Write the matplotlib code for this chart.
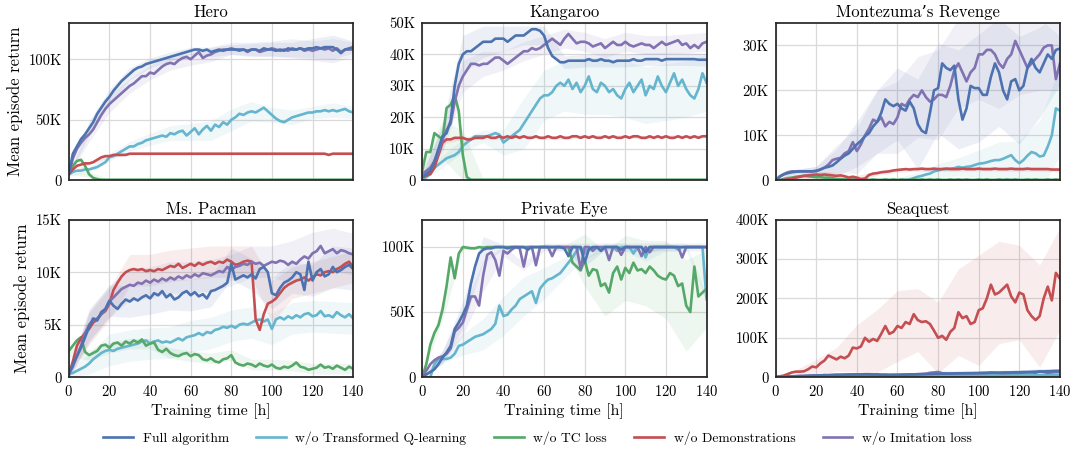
import numpy as np
import matplotlib
matplotlib.use('Agg')
import matplotlib.pyplot as plt

# training time grid (hours), every 2h; bands are read every 10h
hours = list(range(0, 141, 2))
band_hours = hours[::5]

# ---------------- Hero (K) ----------------
hero_full = [5, 22, 28, 34, 38, 43, 48, 55, 60, 65,
             69, 74, 78, 82, 85, 88, 91, 93, 94, 96,
             97, 98, 99, 100, 101, 102, 103, 104, 105, 106,
             107, 108, 108, 107, 108, 106, 107, 108, 107, 108,
             108, 108, 108, 108, 107, 108, 108, 107, 109, 108,
             108, 107, 108, 107, 109, 108, 108, 109, 108, 109,
             109, 110, 109, 110, 110, 110, 108, 105, 108, 109,
             110]
hero_noq = [5, 7, 8, 8, 9, 9, 10, 11, 13, 15,
            19, 20, 22, 24, 26, 28, 28, 30, 31, 33,
            34, 35, 36, 37, 36, 39, 38, 40, 41, 37,
            40, 43, 38, 42, 45, 41, 46, 44, 48, 46,
            50, 52, 55, 54, 56, 57, 56, 58, 60, 57,
            54, 51, 49, 48, 50, 52, 53, 54, 55, 56,
            56, 57, 57, 58, 57, 58, 57, 58, 59, 57,
            56]
hero_notc = [5, 12, 16, 17, 12, 5, 2, 1, 0.5, 0.5,
             0.5, 0.5, 0.5, 0.5, 0.5, 0.5, 0.5, 0.5, 0.5, 0.5,
             0.5, 0.5, 0.5, 0.5, 0.5, 0.5, 0.5, 0.5, 0.5, 0.5,
             0.5, 0.5, 0.5, 0.5, 0.5, 0.5, 0.5, 0.5, 0.5, 0.5,
             0.5, 0.5, 0.5, 0.5, 0.5, 0.5, 0.5, 0.5, 0.5, 0.5,
             0.5, 0.5, 0.5, 0.5, 0.5, 0.5, 0.5, 0.5, 0.5, 0.5,
             0.5, 0.5, 0.5, 0.5, 0.5, 0.5, 0.5, 0.5, 0.5, 0.5,
             0.5]
hero_nodemo = [5, 9, 12, 13, 14, 14, 15, 17, 19, 20,
               20, 21, 21, 21, 21, 22, 22, 22, 22, 22,
               22, 22, 22, 22, 22, 22, 22, 22, 22, 22,
               22, 22, 22, 22, 22, 22, 22, 22, 22, 22,
               22, 22, 22, 22, 22, 22, 22, 22, 22, 22,
               22, 22, 22, 22, 22, 22, 22, 22, 22, 22,
               22, 22, 22, 22, 21, 22, 22, 22, 22, 22,
               22]
hero_noimit = [5, 18, 26, 31, 35, 38, 42, 48, 54, 59,
               63, 66, 69, 72, 75, 78, 80, 83, 86, 86,
               89, 88, 91, 94, 96, 97, 96, 99, 101, 102,
               100, 103, 106, 101, 103, 104, 106, 107, 108, 108,
               109, 108, 107, 108, 106, 108, 108, 106, 107, 108,
               109, 108, 107, 108, 107, 109, 108, 109, 107, 108,
               107, 108, 109, 108, 109, 107, 109, 106, 108, 108,
               108]
hero_full_sd = [1, 6, 6, 5, 4, 4, 3, 4, 4, 5, 6, 6, 8, 10, 5]
hero_noq_sd = [1, 2, 3, 4, 5, 6, 7, 8, 9, 8, 6, 6, 5, 6, 5]
hero_notc_sd = [0.5, 2, 0.5, 0.5, 0.5, 0.5, 0.5, 0.5, 0.5, 0.5, 0.5, 0.5, 0.5, 0.5, 0.5]
hero_nodemo_sd = [0.5, 1, 1, 1, 1, 1, 1, 1, 1, 1, 1, 1, 1, 1, 1]
hero_noimit_sd = [1, 6, 7, 6, 6, 6, 5, 6, 5, 6, 6, 8, 8, 10, 6]

# ---------------- Kangaroo (K) ----------------
kang_full = [1, 2, 3, 6, 10, 14, 15, 19, 30, 37,
             40, 41, 41, 42, 43, 44, 44, 44, 45, 45,
             45, 44, 45, 46, 46, 46, 47, 48, 48, 47.5,
             46, 42, 39.5, 38.5, 37.5, 37.5, 38, 38, 38, 38,
             38, 38.5, 38, 38, 38.5, 38, 38, 37.5, 38, 38,
             38, 38, 38.5, 38, 38, 38.5, 38.5, 38.5, 38.5, 38,
             38.5, 38.5, 38.5, 38.5, 38.5, 38.5, 38.5, 38.5, 38.3, 38.3,
             38.3]
kang_noq = [0.5, 1, 2, 4, 5, 6, 7, 7.5, 8, 9,
            11, 12, 13, 14, 14, 14, 14, 14.5, 15, 14.5,
            12, 13, 14, 15, 16, 18, 20, 22, 24, 26,
            27, 27, 28, 30, 31, 30, 32, 29, 31, 28,
            30, 33, 29, 28, 31, 30, 28, 29, 27, 26,
            29, 31, 28, 30, 32, 27, 30, 29, 33, 30,
            28, 31, 34, 30, 32, 29, 27, 26, 29, 34,
            31]
kang_notc = [3, 9, 9, 15, 14, 13, 23, 24, 27, 22,
             8, 1, 0.2, 0.2, 0.2, 0.2, 0.2, 0.2, 0.2, 0.2,
             0.2, 0.2, 0.2, 0.2, 0.2, 0.2, 0.2, 0.2, 0.2, 0.2,
             0.2, 0.2, 0.2, 0.2, 0.2, 0.2, 0.2, 0.2, 0.2, 0.2,
             0.2, 0.2, 0.2, 0.2, 0.2, 0.2, 0.2, 0.2, 0.2, 0.2,
             0.2, 0.2, 0.2, 0.2, 0.2, 0.2, 0.2, 0.2, 0.2, 0.2,
             0.2, 0.2, 0.2, 0.2, 0.2, 0.2, 0.2, 0.2, 0.2, 0.2,
             0.2]
kang_nodemo = [1, 1.5, 2, 4, 8, 12, 13, 13, 13.5, 13.5,
               13.5, 13, 13, 13.5, 13.5, 13.5, 14, 13.5, 13.5, 14,
               13.5, 14, 13.5, 14, 13.5, 14, 13.5, 13.5, 14, 13.5,
               13.5, 14, 13.5, 13.5, 14, 13.5, 13.5, 14, 14, 13.5,
               14, 13.5, 14, 13.5, 13.5, 14, 13.5, 14, 13.5, 13.5,
               14, 13.5, 14, 14, 13.5, 13.5, 14, 13.5, 14, 13.5,
               14, 13.5, 13.5, 14, 13.5, 14, 13.5, 14, 13.5, 14,
               14]
kang_noimit = [2, 3, 4, 6, 9, 13, 16, 18, 25, 30,
               33, 35, 37, 37, 36.5, 37, 37, 38, 39, 39,
               38, 37, 38, 39, 40, 41, 41, 42, 41.5, 42,
               43, 44, 45, 44, 43, 45, 46.5, 45, 43.5, 44,
               44, 43.5, 42.5, 43, 43.5, 42, 43, 44, 43, 43,
               44, 43, 42.5, 43, 43.5, 43, 43, 42, 43, 44,
               43, 43.5, 44, 44.5, 43, 43.5, 42, 43, 42, 43.5,
               44]
kang_full_sd = [1, 4, 6, 5, 4, 3, 3, 2, 2, 2, 2, 2, 2, 2, 2]
kang_noq_sd = [0.5, 2, 2, 2, 4, 8, 8, 8, 9, 9, 9, 9, 9, 9, 9]
kang_notc_sd = [2, 6, 8, 0.2, 0.2, 0.2, 0.2, 0.2, 0.2, 0.2, 0.2, 0.2, 0.2, 0.2, 0.2]
kang_nodemo_sd = [0.5, 0.5, 0.5, 0.5, 0.5, 0.5, 0.5, 0.5, 0.5, 0.5, 0.5, 0.5, 0.5, 0.5, 0.5]
kang_noimit_sd = [1, 4, 5, 4, 3, 3, 3, 3, 3, 3, 3, 3, 3, 3, 3]

# ---------------- Montezuma's Revenge (K) ----------------
mont_full = [0, 0.8, 1.3, 1.6, 1.8, 1.9, 2, 2, 2, 2,
             2.1, 2.4, 2.8, 3, 3.3, 4, 4.8, 5.5, 6, 7,
             8, 8.8, 9.8, 10.5, 12, 13, 15, 18, 17, 16.5,
             17, 16, 15.5, 17.5, 16, 12.5, 11, 10.5, 15, 20,
             20.5, 26, 25, 24.5, 25.5, 18, 13.5, 16, 21, 20.5,
             20.5, 19, 19, 23, 26, 24, 20, 18, 22, 22.5,
             20, 21, 25, 27, 25, 24, 26, 28, 27, 29,
             29.3]
mont_noq = [0, 0, 0, 0, 0, 0, 0, 0, 0, 0,
            0, 0, 0, 0, 0, 0, 0, 0, 0, 0,
            0, 0, 0, 0, 0, 0, 0, 0, 0, 0,
            0, 0, 0.1, 0.2, 0.5, 0.8, 1, 1.3, 1.5, 2,
            2.2, 2.5, 2.5, 2.6, 2.7, 3, 2.8, 3, 3.1, 3.4,
            3.7, 3.8, 4, 4.3, 4.5, 4.5, 4.8, 5.2, 5.6, 4.5,
            3.8, 4.5, 5.5, 6.3, 6, 5.3, 5.5, 7.5, 10, 16,
            15.5]
mont_notc = [0, 0.1, 0.3, 0.5, 0.6, 0.8, 0.9, 1, 0.9, 0.8,
             0.7, 0.7, 0.6, 0.6, 0.5, 0.3, 0.3, 0.2, 0.2, 0.2,
             0.2, 0.1, 0.2, 0.1, 0.2, 0.1, 0.1, 0.2, 0.1, 0.2,
             0.1, 0.2, 0.1, 0.1, 0.2, 0.1, 0.2, 0.1, 0.2, 0.1,
             0.2, 0.1, 0.1, 0.2, 0.1, 0.2, 0.1, 0.2, 0.1, 0.1,
             0.2, 0.1, 0.2, 0.1, 0.1, 0.2, 0.1, 0.2, 0.1, 0.2,
             0.1, 0.1, 0.2, 0.1, 0.2, 0.1, 0.1, 0.2, 0.1, 0.2,
             0.1]
mont_nodemo = [0, 0, 0.1, 0.2, 0.4, 0.6, 0.8, 1, 1.1, 1.2,
               1.3, 1.2, 1.3, 1.2, 1.1, 1, 1.1, 0.9, 0.6, 0.8,
               0.6, 0.3, 0.4, 1.2, 1.5, 1.6, 1.8, 1.9, 2, 2.2,
               2.3, 2.4, 2.5, 2.4, 2.5, 2.5, 2.6, 2.5, 2.5, 2.6,
               2.5, 2.5, 2.6, 2.5, 2.5, 2.5, 2.6, 2.5, 2.5, 2.5,
               2.6, 2.5, 2.5, 2.5, 2.6, 2.5, 2.5, 2.5, 2.6, 2.5,
               2.5, 2.5, 2.6, 2.5, 2.5, 2.5, 2.5, 2.5, 2.4, 2.4,
               2.4]
mont_noimit = [0, 0.9, 1.4, 1.8, 2, 2, 2, 2, 2, 2,
               2.1, 2.4, 2.8, 3.5, 4.5, 4.8, 5, 6, 6.5, 8.5,
               6.5, 8, 10, 11.5, 13.5, 13, 14, 12, 13, 12.5,
               14, 17, 16.5, 18, 19, 18.5, 20, 18.5, 17.5, 18,
               19, 19, 18.5, 21, 24.5, 26, 24, 22, 24, 25,
               28, 28, 29, 29, 28, 26, 25, 27, 28, 31,
               29, 27, 25, 26, 27, 28, 29.5, 30, 30, 22.5,
               26]
mont_full_sd = [0, 0.5, 1, 3, 5, 7, 8, 10, 10, 11, 12, 12, 12, 10, 8]
mont_noq_sd = [0, 0, 0, 0, 0, 0, 0.5, 1, 1.5, 2, 3, 4, 5, 8, 10]
mont_notc_sd = [0.2, 0.5, 0.5, 0.3, 0.2, 0.2, 0.2, 0.2, 0.2, 0.2, 0.2, 0.2, 0.2, 0.2, 0.2]
mont_nodemo_sd = [0.3, 0.6, 0.8, 0.8, 0.5, 0.5, 0.5, 0.5, 0.5, 0.5, 0.5, 0.5, 0.5, 0.5, 0.5]
mont_noimit_sd = [0, 0.5, 1, 3, 5, 7, 8, 9, 10, 10, 10, 10, 10, 8, 6]

# ---------------- Ms. Pacman (K) ----------------
pac_full = [0.3, 1.2, 2, 2.8, 3.8, 4.8, 5.6, 5.4, 6.2, 6.5,
            7.3, 6.8, 6.5, 7, 7.4, 7.2, 7.5, 7.3, 7.6, 7.8,
            7.5, 8, 7.8, 8.2, 7.6, 7.9, 7.4, 7.6, 8, 8.2,
            7.8, 8.1, 7.7, 7.9, 7.5, 8.2, 8.3, 8.5, 8.7, 9,
            10.8, 9.3, 9.5, 9.7, 9.5, 9.8, 9.4, 10.3, 10.5, 10,
            8, 7.8, 8.5, 9, 9.2, 9.5, 10, 9.8, 8.3, 11,
            9.2, 10, 10.3, 9.6, 9.8, 10.5, 10, 10.2, 10.5, 10.7,
            10.3]
pac_noq = [0.3, 0.4, 0.6, 0.8, 1, 1.3, 1.7, 2, 2.3, 2.5,
           2.6, 2.5, 2.7, 2.8, 2.9, 3, 3.1, 3.2, 3.4, 3.5,
           3.2, 3.4, 3.5, 3.3, 3.4, 3.3, 3.5, 3.7, 3.5, 3.8,
           3.9, 4, 4.2, 4, 4.3, 4.2, 4.5, 4.6, 4.8, 4.7,
           4.9, 4.7, 5, 5.1, 5, 5.2, 5.4, 5.5, 5.3, 5.5,
           4.6, 5.5, 5.7, 5.5, 5.8, 5.6, 5.9, 5.7, 6, 6.1,
           5.8, 5.9, 6.3, 5.8, 5.9, 5.7, 6.2, 5.9, 5.7, 6,
           5.6]
pac_notc = [2.5, 3, 3.5, 3.8, 2.4, 2.1, 2.3, 2.5, 3, 3.1,
            2.8, 3.2, 3.3, 3, 3.4, 3.2, 3.5, 3.3, 3.6, 3,
            3.2, 3.3, 2.6, 2.4, 2.7, 2.3, 2.1, 2, 2.2, 2.3,
            2, 2.2, 2.1, 1.7, 1.6, 1.8, 1.5, 1.4, 1.7, 1.8,
            2.1, 1.4, 1.2, 1.1, 1.3, 1.2, 1, 1.3, 1.1, 1,
            1.2, 0.9, 0.8, 1, 0.9, 1.1, 1.4, 1, 0.9, 0.7,
            0.8, 0.9, 1.2, 0.9, 1, 0.8, 1.1, 0.9, 0.7, 1,
            0.8]
pac_nodemo = [0.2, 1.5, 3, 3.7, 4.2, 4.6, 5.2, 5.5, 6, 6.3,
              7, 8.3, 9, 9.6, 10, 10.2, 10.3, 10.2, 10.3, 10.1,
              10.2, 10.1, 10.3, 10.2, 10.4, 10.6, 10.5, 10.8, 10.4, 10.6,
              10.8, 10.6, 10.9, 10.7, 10.9, 11, 10.8, 11, 10.9, 11.2,
              11, 10.7, 10.8, 11, 11.1, 11, 5.5, 4.5, 6, 7,
              7.2, 7.5, 8, 8.5, 8.8, 9, 9.2, 9.3, 9.5, 9.2,
              9.5, 9.8, 9.7, 10, 10.1, 10, 10.3, 10.5, 10.8, 11,
              10.5]
pac_noimit = [0.3, 1, 2, 3, 4.2, 5, 5.4, 5.6, 6, 6.4,
              7.2, 7.6, 8, 8.4, 8.6, 8.8, 8.7, 9, 8.9, 9.2,
              9, 9.3, 9.1, 9.4, 9.2, 9.5, 9.3, 9.6, 9.4, 9.7,
              9.5, 9.8, 9.6, 9.9, 9.8, 9.7, 9.9, 10.1, 10, 10.5,
              10.2, 10.5, 10.6, 10.8, 10.7, 11, 10.8, 10.9, 10.6, 10.8,
              11, 10.9, 11.1, 11, 10.7, 11, 10.8, 11.2, 11.5, 11.3,
              11.8, 12, 12.5, 11.8, 12, 12.2, 11.8, 12.1, 12, 11.8,
              11.7]
pac_full_sd = [0.3, 1.5, 1.5, 1.5, 1.5, 1.5, 1.5, 1.5, 1.5, 1.5, 1.5, 1.5, 1.5, 2, 2]
pac_noq_sd = [0.3, 1, 1.5, 1.5, 1.5, 1.5, 1.5, 1.5, 1.5, 1.5, 1.5, 1.5, 1.5, 1.5, 1.5]
pac_notc_sd = [0.5, 0.5, 0.5, 0.5, 0.5, 0.5, 0.5, 0.5, 0.5, 0.5, 0.5, 0.5, 0.5, 0.5, 0.5]
pac_nodemo_sd = [0.3, 1.5, 1.5, 1.5, 1.5, 1.5, 1.5, 1.5, 1.5, 1.5, 2, 1.5, 1.5, 1.5, 1.5]
pac_noimit_sd = [0.3, 1.5, 1.5, 1.5, 1.5, 1.5, 1.5, 1.5, 1.5, 1.5, 1.5, 2, 2, 2, 2]

# ---------------- Private Eye (K) ----------------
eye_full = [0, 2, 4, 6, 10, 15, 19, 24, 37, 42,
            48, 55, 72, 85, 95, 98, 99, 99, 100, 100,
            100, 99, 100, 100, 100, 100, 98, 100, 100, 100,
            100, 100, 100, 100, 100, 99, 93, 100, 100, 100,
            88, 98, 100, 100, 97, 100, 100, 100, 100, 98,
            100, 100, 100, 100, 100, 96, 100, 100, 100, 100,
            100, 100, 100, 100, 100, 100, 100, 100, 100, 100,
            100]
eye_noq = [0, 0, 0, 10, 14, 14, 14, 15, 18, 24,
           25, 27, 29, 31, 32, 33, 35, 37, 41, 55,
           47, 48, 52, 55, 60, 62, 64, 66, 57, 68,
           72, 75, 76, 78, 80, 84, 88, 92, 97, 100,
           95, 100, 99, 100, 98, 100, 100, 100, 97, 100,
           100, 100, 95, 100, 100, 92, 100, 100, 100, 100,
           100, 100, 100, 98, 100, 100, 100, 100, 100, 100,
           60]
eye_notc = [0, 10, 25, 34, 40, 52, 70, 92, 76, 95,
            100, 99.5, 99, 99, 100, 99.5, 100, 100, 100, 100,
            100, 100, 100, 100, 100, 100, 100, 100, 100, 100,
            100, 100, 100, 100, 100, 100, 100, 88, 85, 82,
            90, 78, 83, 82, 70, 72, 65, 80, 85, 75,
            84, 80, 88, 82, 83, 80, 85, 82, 78, 76,
            75, 80, 78, 70, 72, 55, 50, 85, 62, 65,
            68]
eye_nodemo = [0.3, 0.3, 0.3, 0.3, 0.3, 0.3, 0.3, 0.3, 0.3, 0.3,
              0.3, 0.3, 0.3, 0.3, 0.3, 0.3, 0.3, 0.3, 0.3, 0.3,
              0.3, 0.3, 0.3, 0.3, 0.3, 0.3, 0.3, 0.3, 0.3, 0.3,
              0.3, 0.3, 0.3, 0.3, 0.3, 0.3, 0.3, 0.3, 0.3, 0.3,
              0.3, 0.3, 0.3, 0.3, 0.3, 0.3, 0.3, 0.3, 0.3, 0.3,
              0.3, 0.3, 0.3, 0.3, 0.3, 0.3, 0.3, 0.3, 0.3, 0.3,
              0.3, 0.3, 0.3, 0.3, 0.3, 0.3, 0.3, 0.3, 0.3, 0.3,
              0.3]
eye_noimit = [0, 5, 10, 13, 15, 16, 18, 22, 35, 38,
              42, 52, 62, 62, 55, 78, 94, 96, 90, 78,
              97, 95, 98, 100, 99, 85, 100, 100, 86, 100,
              100, 100, 93, 100, 100, 100, 100, 100, 100, 83,
              100, 100, 97, 100, 100, 100, 90, 100, 100, 94,
              100, 100, 100, 100, 93, 100, 96, 100, 100, 100,
              100, 100, 100, 100, 92, 100, 100, 100, 100, 100,
              100]
eye_full_sd = [0, 5, 10, 10, 2, 1, 1, 2, 3, 2, 1, 1, 1, 1, 1]
eye_noq_sd = [0, 3, 8, 12, 15, 15, 12, 8, 4, 3, 3, 3, 3, 3, 3]
eye_notc_sd = [0, 8, 2, 1, 1, 1, 1, 1, 20, 25, 25, 25, 30, 35, 30]
eye_nodemo_sd = [0, 0, 0, 0, 0, 0, 0, 0, 0, 0, 0, 0, 0, 0, 0]
eye_noimit_sd = [0, 5, 10, 12, 4, 3, 3, 3, 3, 3, 3, 3, 3, 3, 3]

# ---------------- Seaquest (K) ----------------
sea_full = [0, 0.5, 1, 1.5, 2, 2.5, 3, 3, 3.5, 4,
            4, 4.5, 5, 5, 5.5, 6, 6, 6.5, 6.5, 7,
            7, 7, 7.5, 7.5, 7, 7, 6.5, 6.5, 6, 6,
            6, 6.5, 6.5, 7, 7, 7.5, 7.5, 8, 8, 8.5,
            8.5, 9, 9, 9, 9.5, 9.5, 10, 10, 10, 10.5,
            10.5, 11, 11, 11, 11.5, 11.5, 12, 12, 12, 12.5,
            12.5, 13, 13, 13.5, 14, 14, 14.5, 15, 15.5, 16,
            16]
sea_noq = [0, 0.3, 0.6, 1, 1.2, 1.5, 1.8, 2, 2.2, 2.4,
           2.5, 2.6, 2.7, 2.8, 2.9, 3, 3, 3, 3.1, 3.2,
           3.2, 3.3, 3.3, 3.4, 3.4, 3.5, 3.5, 3.5, 3.6, 3.6,
           3.7, 3.7, 3.8, 3.8, 3.9, 3.9, 4, 4, 4, 4.1,
           4.1, 4.2, 4.2, 4.3, 4.3, 4.4, 4.4, 4.5, 4.5, 4.5,
           4.6, 4.6, 4.7, 4.7, 4.8, 4.8, 4.9, 4.9, 5, 5,
           5, 5.1, 5.1, 5.2, 5.2, 5.3, 5.3, 5.4, 5.4, 5.5,
           5.5]
sea_notc = [0.5, 0.5, 0.5, 0.5, 0.5, 0.5, 0.5, 0.5, 0.5, 0.5,
            0.5, 0.5, 0.5, 0.5, 0.5, 0.5, 0.5, 0.5, 0.5, 0.5,
            0.5, 0.5, 0.5, 0.5, 0.5, 0.5, 0.5, 0.5, 0.5, 0.5,
            0.5, 0.5, 0.5, 0.5, 0.5, 0.5, 0.5, 0.5, 0.5, 0.5,
            0.5, 0.5, 0.5, 0.5, 0.5, 0.5, 0.5, 0.5, 0.5, 0.5,
            0.5, 0.5, 0.5, 0.5, 0.5, 0.5, 0.5, 0.5, 0.5, 0.5,
            0.5, 0.5, 0.5, 0.5, 0.5, 0.5, 0.5, 0.5, 0.5, 0.5,
            0.5]
sea_nodemo = [0, 2, 4, 8, 12, 14, 14, 15, 20, 27,
              25, 35, 42, 55, 50, 45, 52, 48, 55, 75,
              73, 78, 100, 90, 97, 92, 110, 130, 110, 115,
              130, 125, 140, 135, 160, 145, 140, 142, 135, 118,
              100, 105, 95, 115, 125, 165, 150, 155, 135, 140,
              170, 175, 200, 235, 210, 215, 225, 235, 205, 190,
              215, 210, 170, 155, 145, 155, 200, 230, 195, 265,
              250]
sea_noimit = [0, 0.5, 1, 1.5, 2, 2.5, 3, 3, 3.5, 4,
              4, 4.5, 5, 5, 5.5, 6, 6, 6, 6.5, 6.5,
              6.5, 7, 7, 6.5, 6, 6, 5.5, 5.5, 5.5, 6,
              6, 6, 6.5, 7, 7, 7.5, 8, 8.5, 11, 12,
              13, 10, 9, 9, 9.5, 10, 9.5, 10, 10, 9.5,
              10, 10, 10.5, 12, 11, 10.5, 10, 10.5, 11, 11,
              11, 11.5, 12, 12, 11, 15, 13, 11, 12, 13,
              13]
sea_full_sd = [0, 1, 2, 3, 3, 3, 3, 3, 4, 5, 5, 6, 6, 6, 6]
sea_noq_sd = [0, 1, 1, 1, 1, 1, 1, 1, 1, 1, 1, 1, 1, 1, 1]
sea_notc_sd = [0, 0, 0, 0, 0, 0, 0, 0, 0, 0, 0, 0, 0, 0, 0]
sea_nodemo_sd = [0, 5, 20, 30, 60, 80, 90, 80, 90, 110, 140, 130, 120, 130, 130]
sea_noimit_sd = [0, 1, 2, 3, 3, 3, 3, 4, 5, 6, 6, 6, 7, 7, 7]

# ---------------- styling ----------------
labels = ['Full algorithm', 'w/o Transformed Q-learning', 'w/o TC loss',
          'w/o Demonstrations', 'w/o Imitation loss']
colors = ['#4C72B0', '#64B5CD', '#55A868', '#C44E52', '#8172B2']
draw_order = [1, 2, 3, 4, 0]

plt.rcParams['font.family'] = ['cmr10', 'DejaVu Serif']
plt.rcParams['axes.formatter.use_mathtext'] = True
plt.rcParams['axes.unicode_minus'] = False

games = [
    ('Hero', [hero_full, hero_noq, hero_notc, hero_nodemo, hero_noimit],
     [hero_full_sd, hero_noq_sd, hero_notc_sd, hero_nodemo_sd, hero_noimit_sd],
     130, [0, 50, 100], ['0', '50K', '100K']),
    ('Kangaroo', [kang_full, kang_noq, kang_notc, kang_nodemo, kang_noimit],
     [kang_full_sd, kang_noq_sd, kang_notc_sd, kang_nodemo_sd, kang_noimit_sd],
     50, [0, 10, 20, 30, 40, 50], ['0', '10K', '20K', '30K', '40K', '50K']),
    ('Montezuma\u2019s Revenge', [mont_full, mont_noq, mont_notc, mont_nodemo, mont_noimit],
     [mont_full_sd, mont_noq_sd, mont_notc_sd, mont_nodemo_sd, mont_noimit_sd],
     35, [0, 10, 20, 30], ['0', '10K', '20K', '30K']),
    ('Ms. Pacman', [pac_full, pac_noq, pac_notc, pac_nodemo, pac_noimit],
     [pac_full_sd, pac_noq_sd, pac_notc_sd, pac_nodemo_sd, pac_noimit_sd],
     15, [0, 5, 10, 15], ['0', '5K', '10K', '15K']),
    ('Private Eye', [eye_full, eye_noq, eye_notc, eye_nodemo, eye_noimit],
     [eye_full_sd, eye_noq_sd, eye_notc_sd, eye_nodemo_sd, eye_noimit_sd],
     121, [0, 50, 100], ['0', '50K', '100K']),
    ('Seaquest', [sea_full, sea_noq, sea_notc, sea_nodemo, sea_noimit],
     [sea_full_sd, sea_noq_sd, sea_notc_sd, sea_nodemo_sd, sea_noimit_sd],
     400, [0, 100, 200, 300, 400], ['0', '100K', '200K', '300K', '400K']),
]

fig, axes = plt.subplots(2, 3, figsize=(10.75, 4.49), dpi=100)
fig.subplots_adjust(left=0.064, right=0.986, top=0.949, bottom=0.160,
                    wspace=0.243, hspace=0.25)

handles = []
for i, (title, series, spreads, ymax, yt, ylab) in enumerate(games):
    ax = axes.flat[i]
    for k in draw_order:
        y = np.array(series[k], dtype=float)
        sd = np.array(spreads[k], dtype=float)
        yb = y[::5]
        ax.fill_between(band_hours, yb - sd, yb + sd, color=colors[k],
                        alpha=0.10, lw=0)
    lines = {}
    for k in draw_order:
        ln, = ax.plot(hours, series[k], color=colors[k], lw=1.9)
        lines[k] = ln
    if i == 0:
        handles = [lines[k] for k in range(5)]
    ax.set_xlim(0, 140)
    ax.set_ylim(0, ymax)
    ax.set_xticks([0, 20, 40, 60, 80, 100, 120, 140])
    ax.set_yticks(yt)
    ax.set_yticklabels(ylab)
    if i < 3:
        ax.set_xticklabels([])
    else:
        ax.set_xlabel('Training time [h]', fontsize=11.5, labelpad=3)
    if i % 3 == 0:
        ax.set_ylabel('Mean episode return', fontsize=12, labelpad=4)
    ax.set_title(title, fontsize=12, pad=4)
    ax.grid(True, color='#d9d9d9', lw=0.9)
    ax.set_axisbelow(True)
    ax.tick_params(length=0, labelsize=10.5, pad=5)
    for s in ax.spines.values():
        s.set_color('#262626')
        s.set_linewidth(1.25)

fig.legend(handles, labels, loc='center', bbox_to_anchor=(0.5, 0.025),
           ncol=5, frameon=False, fontsize=9.8, handlelength=2.2,
           handletextpad=0.7, columnspacing=2.0)

fig.savefig('out.png', dpi=100)
